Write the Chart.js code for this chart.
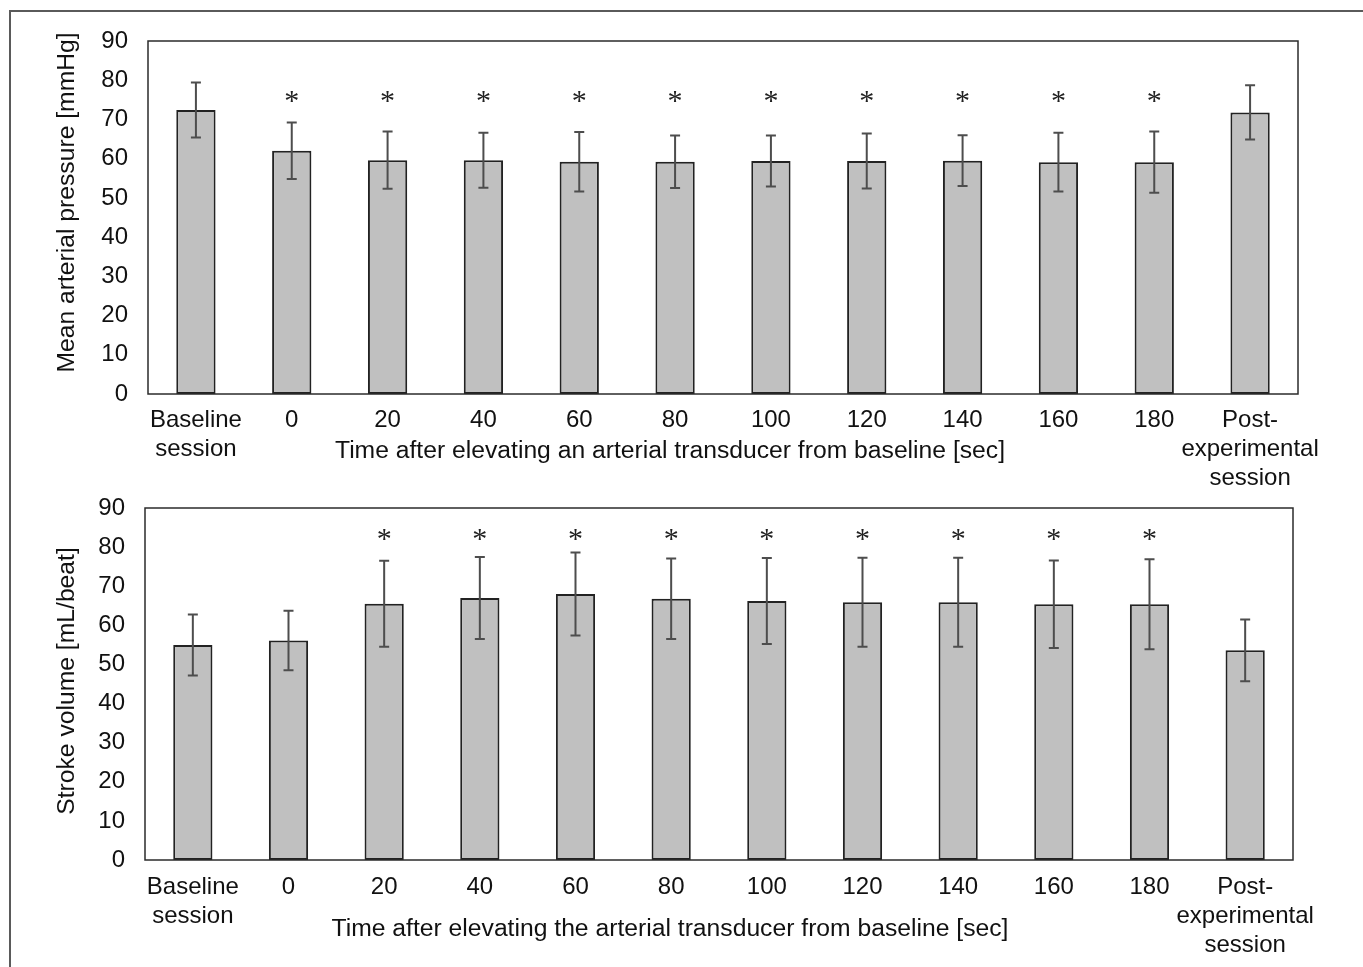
<!DOCTYPE html>
<html>
<head>
<meta charset="utf-8">
<script src="https://cdn.jsdelivr.net/npm/chart.js@4"></script>
<style>
  html, body { margin: 0; padding: 0; background: #fff; }
  body { width: 1363px; height: 967px; position: relative; overflow: hidden; }
  .frame {
    position: absolute; left: 9px; top: 10px; width: 1400px; height: 1000px;
    border: 2px solid #5a5a5a; box-sizing: border-box;
  }
  .panel { position: absolute; left: 0; width: 1363px; }
  #panelTop    { top: 0;     height: 490px; }
  #panelBottom { top: 490px; height: 477px; }
</style>
</head>
<body>
<div class="frame"></div>
<div class="panel" id="panelTop"><canvas id="chartMap" width="1363" height="490"></canvas></div>
<div class="panel" id="panelBottom"><canvas id="chartSv" width="1363" height="477"></canvas></div>

<script>
// ── Data ──────────────────────────────────────────────
const categories = [
  ['Baseline', 'session'], '0', '20', '40', '60', '80', '100', '120', '140', '160', '180',
  ['Post-', 'experimental', 'session']
]

// mean arterial pressure [mmHg]
const mapMean = [72.4, 62.0, 59.6, 59.6, 59.2, 59.2, 59.4, 59.4, 59.5, 59.1, 59.1, 71.8]
const mapSd   = [7.0, 7.2, 7.3, 7.0, 7.6, 6.7, 6.5, 7.0, 6.5, 7.5, 7.8, 6.9]
const mapSig  = [false, true, true, true, true, true, true, true, true, true, true, false]

// stroke volume [mL/beat]
const svMean = [55.0, 56.1, 65.5, 67.0, 68.0, 66.8, 66.2, 65.9, 65.9, 65.4, 65.4, 53.6]
const svSd   = [7.8, 7.6, 11.0, 10.5, 10.6, 10.3, 11.0, 11.4, 11.4, 11.2, 11.5, 7.9]
const svSig  = [false, false, true, true, true, true, true, true, true, true, true, false]

const yMin  = 0
const yMax  = 90
const yStep = 10

// ── Defaults ──────────────────────────────────────────
const FONT = '"Liberation Sans", Arial, Helvetica, sans-serif'
Chart.defaults.font.family = FONT
Chart.defaults.color = '#111'

// ── Plugins ───────────────────────────────────────────
const errorBars = {
  id: 'errorBars',
  afterDatasetsDraw(chart, args, opts) {
    const { ctx, scales: { y } } = chart
    const ds = chart.data.datasets[0]
    ctx.save()
    ctx.strokeStyle = opts.color
    ctx.lineWidth = opts.lineWidth
    chart.getDatasetMeta(0).data.forEach((bar, i) => {
      const m = ds.data[i], sd = ds.sd[i]
      const top = y.getPixelForValue(m + sd)
      const bot = y.getPixelForValue(m - sd)
      ctx.beginPath()
      ctx.moveTo(bar.x, top); ctx.lineTo(bar.x, bot)
      ctx.moveTo(bar.x - opts.cap, top); ctx.lineTo(bar.x + opts.cap, top)
      ctx.moveTo(bar.x - opts.cap, bot); ctx.lineTo(bar.x + opts.cap, bot)
      ctx.stroke()
    })
    ctx.restore()
  }
}

const stars = {
  id: 'stars',
  afterDatasetsDraw(chart, args, opts) {
    const { ctx, scales: { y } } = chart
    const ds = chart.data.datasets[0]
    const yc = y.getPixelForValue(opts.level)
    ctx.save()
    ctx.font = opts.font
    ctx.fillStyle = opts.color
    ctx.textAlign = 'center'
    ctx.textBaseline = 'alphabetic'
    const m = ctx.measureText('*')
    const base = yc + (m.actualBoundingBoxAscent - m.actualBoundingBoxDescent) / 2
    chart.getDatasetMeta(0).data.forEach((bar, i) => {
      if (ds.sig[i]) ctx.fillText('*', bar.x, base)
    })
    ctx.restore()
  }
}

const plotFrame = {
  id: 'plotFrame',
  afterDatasetsDraw(chart, args, opts) {
    const { ctx, chartArea: a } = chart
    ctx.save()
    ctx.strokeStyle = opts.color
    ctx.lineWidth = opts.lineWidth
    ctx.strokeRect(a.left, a.top, a.right - a.left, a.bottom - a.top)
    ctx.restore()
  }
}

const axisTitles = {
  id: 'axisTitles',
  afterDraw(chart, args, opts) {
    const { ctx, chartArea: a } = chart
    ctx.save()
    ctx.font = opts.font
    ctx.fillStyle = opts.color
    ctx.textAlign = 'center'
    ctx.textBaseline = 'middle'
    ctx.fillText(opts.x, (a.left + a.right) / 2 + opts.xShift, a.bottom + opts.xGap)
    ctx.translate(opts.yPos, (a.top + a.bottom) / 2 + opts.yShift)
    ctx.rotate(-Math.PI / 2)
    ctx.fillText(opts.y, 0, 0)
    ctx.restore()
  }
}

// ── Chart builder ─────────────────────────────────────
function makeChart(id, mean, sd, sig, t) {
  const ctx = document.getElementById(id).getContext('2d')
  return new Chart(ctx, {
    type: 'bar',
    data: {
      labels: categories,
      datasets: [{
        data: mean,
        sd,
        sig,
        backgroundColor: '#c0c0c0',
        borderColor: '#222',
        borderWidth: 2,
        borderSkipped: false,
        categoryPercentage: 1,
        barPercentage: 0.41
      }]
    },
    options: {
      responsive: false,
      animation: false,
      layout: { padding: { left: 0, right: t.right, top: t.top, bottom: 0 } },
      plugins: {
        legend: { display: false },
        tooltip: { enabled: false },
        errorBars: { color: '#4d4d4d', lineWidth: 2, cap: 5 },
        stars: { level: t.starLevel, font: '30px "Liberation Serif", "Times New Roman", serif', color: '#222' },
        plotFrame: { color: '#2b2b2b', lineWidth: 1.5 },
        axisTitles: {
          x: t.xTitle, y: t.yTitle,
          font: '24.7px ' + FONT, color: '#111',
          xShift: t.xShift, xGap: t.xGap, yPos: 67, yShift: t.yShift
        }
      },
      scales: {
        x: {
          grid: { display: false, drawTicks: false },
          border: { display: false },
          ticks: {
            font: { size: 24, lineHeight: 1.21 },
            padding: t.xPad, maxRotation: 0, minRotation: 0, autoSkip: false
          },
          afterFit: s => { s.height = t.xHeight }
        },
        y: {
          min: yMin, max: yMax,
          grid: { display: false, drawTicks: false },
          border: { display: false },
          ticks: { stepSize: yStep, font: { size: 24 }, padding: 20 },
          afterFit: s => {
            s.width = t.yWidth
            s.paddingTop = 0
            s.paddingBottom = 0
          }
        }
      }
    },
    plugins: [errorBars, stars, plotFrame, axisTitles]
  })
}

// ── Init ──────────────────────────────────────────────
makeChart('chartMap', mapMean, mapSd, mapSig, {
  top: 41, right: 65, xHeight: 96, yWidth: 148, xPad: 12,
  starLevel: 75.9,
  xTitle: 'Time after elevating an arterial transducer from baseline [sec]',
  yTitle: 'Mean arterial pressure [mmHg]',
  xShift: -53, xGap: 57, yShift: -15
})

makeChart('chartSv', svMean, svSd, svSig, {
  top: 18, right: 70, xHeight: 107, yWidth: 145, xPad: 13,
  starLevel: 83.1,
  xTitle: 'Time after elevating the arterial transducer from baseline [sec]',
  yTitle: 'Stroke volume [mL/beat]',
  xShift: -49, xGap: 69, yShift: -3
})
</script>
</body>
</html>
